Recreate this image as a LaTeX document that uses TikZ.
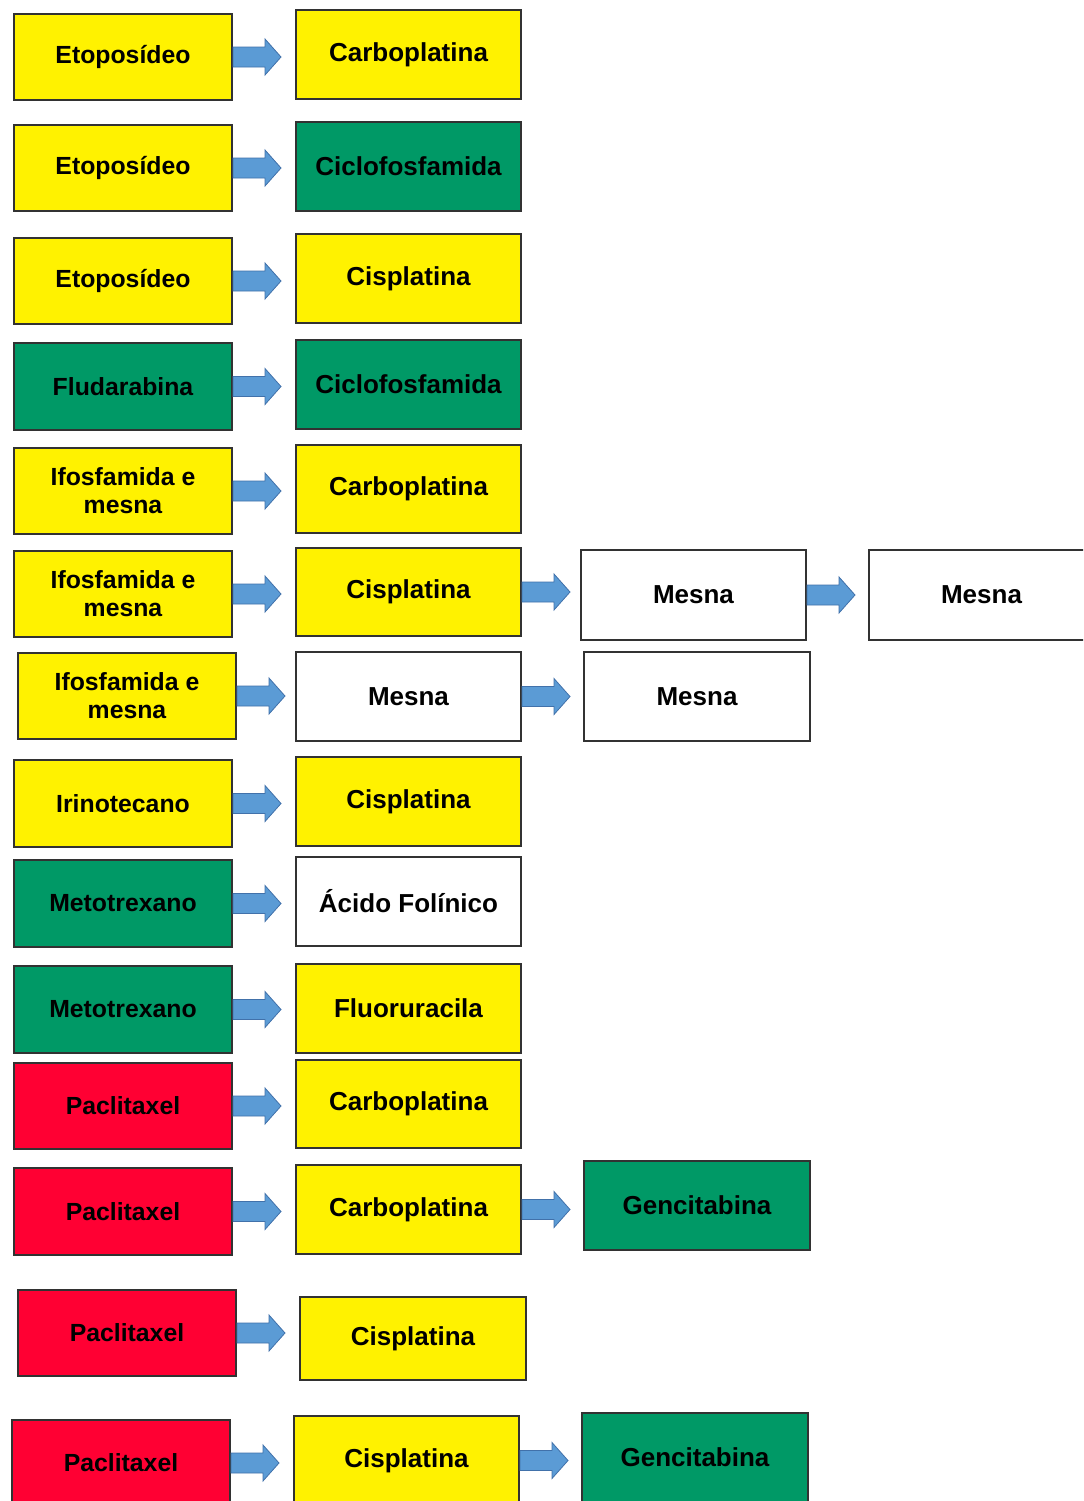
\documentclass[tikz,border=0pt]{standalone}
\usepackage{fontspec}
\setmainfont{Liberation Sans}
\definecolor{yel}{RGB}{255,242,0}
\definecolor{grn}{RGB}{0,153,102}
\definecolor{rd}{RGB}{255,0,51}
\definecolor{arrf}{RGB}{91,155,213}
\definecolor{arrd}{RGB}{65,113,170}
\definecolor{edge}{RGB}{50,50,50}
\tikzset{
  box/.style={draw=edge, line width=1pt, inner sep=0pt, align=center,
    font=\bfseries\fontsize{12.4}{14}\selectfont},
  ybox/.style={box, fill=yel},
  gbox/.style={box, fill=grn},
  rbox/.style={box, fill=rd},
  wbox/.style={box, fill=white},
  bigtext/.style={font=\bfseries\fontsize{13}{15}\selectfont},
  blockarrow/.style={fill=arrf, draw=arrd, line width=0.4pt}
}
\newcommand{\bx}[7]{%
  \node[#6, minimum width={(#4-#2)*0.5pt}, minimum height={(#5-#3)*0.5pt}]
    (#1) at ({(#2+#4)/2},{(#3+#5)/2}) {#7};}
\newcommand{\barrow}[2]{%
  \draw[blockarrow] ([yshift=5pt]#1.east) -- ++(16pt,0) -- ++(0,4pt)
    -- ([xshift=24pt]#1.east) coordinate (#1-#2-tip)
    -- ([xshift=16pt,yshift=-9pt]#1.east) -- ++(0,4pt)
    -- ([yshift=-5pt]#1.east) -- cycle;}
\begin{document}
\begin{tikzpicture}[x=0.5pt,y=-0.5pt]
\useasboundingbox (0,0) rectangle (1083,1501);
\clip (0,0) rectangle (1083,1501);
\fill[white] (0,0) rectangle (1083,1501);
% row 1
\bx{r1a}{14}{14}{232}{100}{ybox}{Etoposídeo}
\bx{r1b}{296}{10}{521}{99}{ybox,bigtext}{Carboplatina}
% row 2
\bx{r2a}{14}{125}{232}{211}{ybox}{Etoposídeo}
\bx{r2b}{296}{122}{521}{211}{gbox,bigtext}{Ciclofosfamida}
% row 3
\bx{r3a}{14}{238}{232}{324}{ybox}{Etoposídeo}
\bx{r3b}{296}{234}{521}{323}{ybox,bigtext}{Cisplatina}
% row 4
\bx{r4a}{14}{343}{232}{430}{gbox}{Fludarabina}
\bx{r4b}{296}{340}{521}{429}{gbox,bigtext}{Ciclofosfamida}
% row 5
\bx{r5a}{14}{448}{232}{534}{ybox}{Ifosfamida e\\mesna}
\bx{r5b}{296}{445}{521}{533}{ybox,bigtext}{Carboplatina}
% row 6
\bx{r6a}{14}{551}{232}{637}{ybox}{Ifosfamida e\\mesna}
\bx{r6b}{296}{548}{521}{636}{ybox,bigtext}{Cisplatina}
\bx{r6c}{581}{550}{806}{640}{wbox,bigtext}{Mesna}
\bx{r6d}{869}{550}{1094}{640}{wbox,bigtext}{Mesna}
% row 7
\bx{r7a}{18}{653}{236}{739}{ybox}{Ifosfamida e\\mesna}
\bx{r7b}{296}{652}{521}{741}{wbox,bigtext}{Mesna}
\bx{r7c}{584}{652}{810}{741}{wbox,bigtext}{Mesna}
% row 8
\bx{r8a}{14}{760}{232}{847}{ybox}{Irinotecano}
\bx{r8b}{296}{757}{521}{846}{ybox,bigtext}{Cisplatina}
% row 9
\bx{r9a}{14}{860}{232}{947}{gbox}{Metotrexano}
\bx{r9b}{296}{857}{521}{946}{wbox,bigtext}{Ácido Folínico}
% row 10
\bx{r10a}{14}{966}{232}{1053}{gbox}{Metotrexano}
\bx{r10b}{296}{964}{521}{1053}{ybox,bigtext}{Fluoruracila}
% row 11
\bx{r11a}{14}{1063}{232}{1149}{rbox}{Paclitaxel}
\bx{r11b}{296}{1060}{521}{1148}{ybox,bigtext}{Carboplatina}
% row 12
\bx{r12a}{14}{1168}{232}{1255}{rbox}{Paclitaxel}
\bx{r12b}{296}{1165}{521}{1254}{ybox,bigtext}{Carboplatina}
\bx{r12c}{584}{1161}{810}{1250}{gbox,bigtext}{Gencitabina}
% row 13
\bx{r13a}{18}{1290}{236}{1376}{rbox}{Paclitaxel}
\bx{r13b}{300}{1297}{526}{1380}{ybox,bigtext}{Cisplatina}
% row 14
\bx{r14a}{12}{1420}{230}{1506}{rbox}{Paclitaxel}
\bx{r14b}{294}{1416}{519}{1505}{ybox,bigtext}{Cisplatina}
\bx{r14c}{582}{1413}{808}{1502}{gbox,bigtext}{Gencitabina}
% arrows
\barrow{r1a}{r1b}
\barrow{r2a}{r2b}
\barrow{r3a}{r3b}
\barrow{r4a}{r4b}
\barrow{r5a}{r5b}
\barrow{r6a}{r6b}
\barrow{r6b}{r6c}
\barrow{r6c}{r6d}
\barrow{r7a}{r7b}
\barrow{r7b}{r7c}
\barrow{r8a}{r8b}
\barrow{r9a}{r9b}
\barrow{r10a}{r10b}
\barrow{r11a}{r11b}
\barrow{r12a}{r12b}
\barrow{r12b}{r12c}
\barrow{r13a}{r13b}
\barrow{r14a}{r14b}
\barrow{r14b}{r14c}
\end{tikzpicture}
\end{document}
